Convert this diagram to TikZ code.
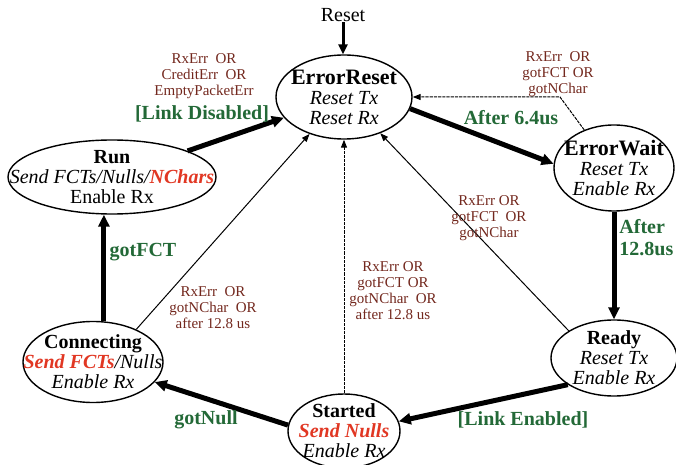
\documentclass[tikz,border=0pt]{standalone}
\usepackage{fontspec}
\setmainfont{Liberation Serif}
\usepackage{tikz}
\usetikzlibrary{arrows.meta,shapes.geometric,positioning}
\definecolor{condbrown}{RGB}{115,40,30}
\definecolor{evgreen}{RGB}{35,105,55}
\definecolor{actred}{RGB}{225,55,35}

\begin{document}
\begin{tikzpicture}[
    x=0.5pt, y=-0.5pt,
    state/.style={ellipse, draw, line width=0.7pt, inner sep=0},
    stext/.style={align=center, inner sep=0, font=\fontsize{10}{10}\selectfont},
    cond/.style={align=center, inner sep=0, text=condbrown, font=\fontsize{7.5}{8}\selectfont},
    evt/.style={align=center, inner sep=0, text=evgreen, font=\fontsize{10}{11}\selectfont\bfseries},
    main/.style={line width=2.5pt, -{Triangle[length=6pt,width=5.5pt]}},
    back/.style={line width=0.5pt, -{Triangle[length=4pt,width=3pt]}},
    backdash/.style={back, dash pattern=on 1.6pt off 0.5pt}]
\useasboundingbox (0,0) rectangle (676,465);

\node[state, minimum width=68pt, minimum height=42pt] (err) at (344,97) {};
\node[stext] (errT) at (err) {\textbf{\fontsize{11}{10}\selectfont ErrorReset}\\\textit{Reset Tx}\\\textit{Reset Rx}};
\node[state, minimum width=60pt, minimum height=43pt] (wait) at (614,168) {};
\node[stext] (waitT) at (wait) {\textbf{\fontsize{11}{10}\selectfont ErrorWait}\\\textit{Reset Tx}\\\textit{Enable Rx}};
\node[state, minimum width=63pt, minimum height=38pt] (ready) at (614,358) {};
\node[stext] (readyT) at (ready) {\textbf{Ready}\\\textit{Reset Tx}\\\textit{Enable Rx}};
\node[state, minimum width=56pt, minimum height=37pt] (start) at (344,431) {};
\node[stext] (startT) at (start) {\textbf{Started}\\\textcolor{actred}{\textbf{\textit{Send Nulls}}}\\\textit{Enable Rx}};
\node[state, minimum width=70pt, minimum height=40.5pt] (conn) at (93,362) {};
\node[stext] (connT) at (conn) {\textbf{Connecting}\\\textit{\textcolor{actred}{\textbf{Send FCTs}}/Nulls}\\\textit{Enable Rx}};
\node[state, minimum width=104pt, minimum height=37pt] (run) at (112,177) {};
\node[stext] (runT) at (run) {\textbf{Run}\\\textit{Send FCTs/Nulls/\textcolor{actred}{\textbf{NChars}}}\\Enable Rx};

\node[inner sep=0, font=\fontsize{10}{10}\selectfont] (reset) at (343,15) {Reset};
\coordinate (bend) at (560,97);

\draw[line width=1.5pt, -{Triangle[length=5pt,width=4.5pt]}] (reset) -- (reset |- err.north);
\draw[main] (run) -- (err);
\draw[main] (err.-10) -- (wait.176);
\draw[main] (wait.south) -- (ready.north);
\draw[main] (ready.-150) -- (start.10);
\draw[main] (start.174) -- (conn.-18);
\draw[main] (conn.75) -- (conn.75 |- run.south);
\draw[backdash] (wait.128) -- (bend) -- (err.east);
\draw[back] (ready.149) -- (err.-45);
\draw[backdash] (start.north) -- (start.north |- err.south);
\draw[back] (conn.37) -- (err.-133);

\node[cond] (c1) at (204,76) {RxErr~~OR\\CreditErr~~OR\\EmptyPacketErr};
\node[evt] (e1) at (202,114) {[Link Disabled]};
\node[evt] (e2) at (511,118) {After 6.4us};
\node[cond] (c2) at (558,74) {RxErr~~OR\\gotFCT~OR\\gotNChar};
\node[evt, align=left, anchor=west] (e3) at (619,238) {After\\12.8us};
\node[cond] (c3) at (489,218) {RxErr OR\\gotFCT~~OR\\gotNChar};
\node[cond] (c4) at (393,291) {RxErr OR\\gotFCT OR\\gotNChar~~OR\\after 12.8 us};
\node[cond] (c5) at (213,308) {RxErr~~OR\\gotNChar~~OR\\after 12.8 us};
\node[evt] (e4) at (143,252) {gotFCT};
\node[evt] (e5) at (206,420) {gotNull};
\node[evt] (e6) at (523,420) {[Link Enabled]};
\end{tikzpicture}
\end{document}
